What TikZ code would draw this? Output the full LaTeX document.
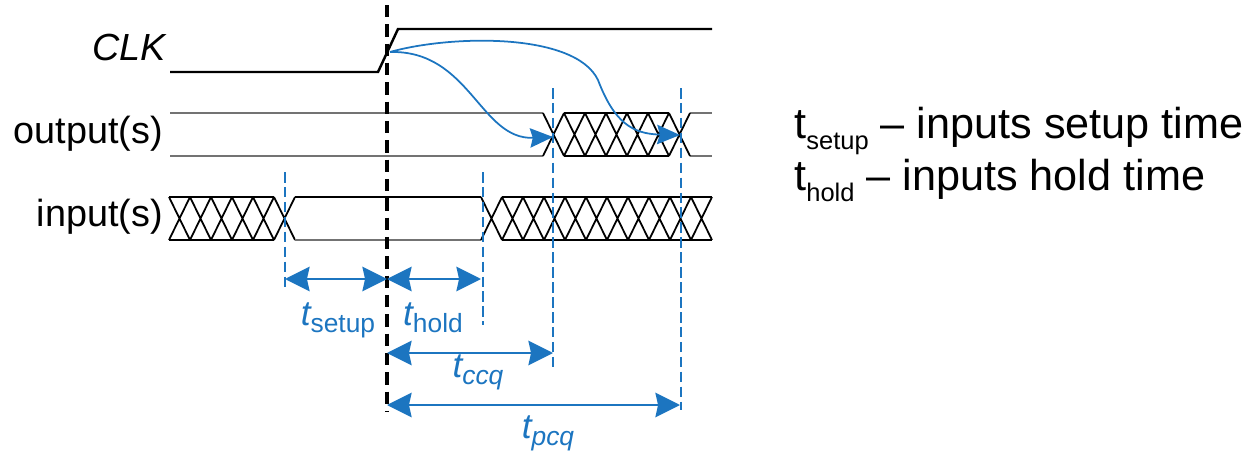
\documentclass[tikz,border=0pt]{standalone}
\usepackage{fontspec}
\setmainfont{Liberation Sans}
\usetikzlibrary{arrows.meta}
\definecolor{tblue}{RGB}{28,117,192}
\tikzstyle{clkwire}=[line width=1.4pt,black]
\tikzstyle{buslines}=[line width=1pt,black]
\tikzstyle{idlelines}=[line width=0.9pt,black!55]
\tikzstyle{guideline}=[tblue,line width=0.85pt,dash pattern=on 6pt off 2.5pt]
\tikzstyle{edgemark}=[black,line width=1.9pt,dash pattern=on 7pt off 4pt]
\tikzstyle{dimarrow}=[draw,tblue,line width=1.1pt,<->]
\tikzstyle{cqarrow}=[draw,tblue,line width=1pt,-{Stealth[length=13pt,width=11pt,inset=1.5pt]}]
\tikzstyle{signame}=[anchor=east,inner sep=0pt,font=\fontsize{21.5}{25}\selectfont]
\tikzstyle{tlabel}=[tblue,anchor=base,inner sep=0pt]
\tikzstyle{legend}=[anchor=base west,inner sep=0pt,font=\fontsize{24.6}{30}\selectfont]
\newcommand{\tlab}[1]{{\fontsize{20}{24}\selectfont\itshape t}\raisebox{-4pt}{\fontsize{15}{18}\selectfont #1}}
\newcommand{\subtxt}[1]{\raisebox{-6.5pt}{\fontsize{14.5}{16}\selectfont #1}}
\begin{document}
\begin{tikzpicture}[x=0.02cm,y=-0.02cm,>={Stealth[length=14pt,width=14pt,inset=1.5pt]}]
    \useasboundingbox (0,0) rectangle (1249,453);

    % signal names
    \node[signame] (clk) at (166,47) {\itshape CLK};
    \node[signame] (out) at (163,134) {output(s)};
    \node[signame] (in) at (163,217) {input(s)};

    % clock
    \draw[clkwire] (170,72) -- (378,72) -- (398,29) -- (712,29);

    % outputs
    \draw[idlelines] (170,113) -- (543,113) (170,156) -- (543,156);
    \draw[idlelines] (690,113) -- (712,113) (690,156) -- (712,156);
    \draw[buslines] (564,113) -- (669,113) (564,156) -- (669,156);
    \foreach \k in {0,...,6}
        \draw[buslines] (543+21*\k,113) -- (564+21*\k,156) (543+21*\k,156) -- (564+21*\k,113);

    % inputs
    \def\yt{197};
    \def\yb{240};
    \draw[buslines] (169,\yt) -- (274,\yt) (169,\yb) -- (274,\yb);
    \foreach \k in {0,...,5}
        \draw[buslines] (169+21*\k,\yt) -- (190+21*\k,\yb) (169+21*\k,\yb) -- (190+21*\k,\yt);
    \draw[buslines] (295,\yt) -- (481,\yt);
    \draw[idlelines] (295,\yb) -- (481,\yb);
    \draw[buslines] (502,\yt) -- (712,\yt) (502,\yb) -- (712,\yb);
    \foreach \k in {0,...,10}
        \draw[buslines] (481+21*\k,\yt) -- (502+21*\k,\yb) (481+21*\k,\yb) -- (502+21*\k,\yt);

    % clock edge and guides
    \draw[edgemark] (387,5) -- (387,412);
    \draw[guideline] (285,172) -- (285,290);
    \draw[guideline] (483,172) -- (483,325);
    \draw[guideline] (553,88) -- (553,368);
    \draw[guideline] (681,88) -- (681,410);

    % clock to q
    \coordinate (rise) at (390,52);
    \coordinate (ccq) at (553,137);
    \coordinate (pcq) at (680,135);
    \draw[cqarrow] (rise) .. controls (470,50) and (480,140) .. (ccq);
    \draw[cqarrow] (rise) .. controls (450,35) and (575,32) .. (598,80) .. controls (614,122) and (632,134) .. (pcq);

    % timing spans
    \coordinate (su) at (285,279);
    \coordinate (ck1) at (387,279);
    \coordinate (ho) at (481,279);
    \coordinate (ck2) at (387,353);
    \coordinate (cc) at (553,353);
    \coordinate (ck3) at (387,405);
    \coordinate (pc) at (680,405);
    \path[dimarrow] (su) -- (ck1);
    \path[dimarrow] (ck1) -- (ho);
    \path[dimarrow] (ck2) -- (cc);
    \path[dimarrow] (ck3) -- (pc);

    \node[tlabel] (tsu) at (338,325) {\tlab{setup}};
    \node[tlabel] (tho) at (433,325) {\tlab{hold}};
    \node[tlabel] (tcc) at (478,377) {\tlab{\itshape ccq}};
    \node[tlabel] (tpc) at (548,438) {\tlab{\itshape pcq}};

    % legend
    \node[legend] (leg1) at (794,138) {t\subtxt{setup} – inputs setup time};
    \node[legend] (leg2) at (794,190) {t\subtxt{hold} – inputs hold time};
\end{tikzpicture}
\end{document}
